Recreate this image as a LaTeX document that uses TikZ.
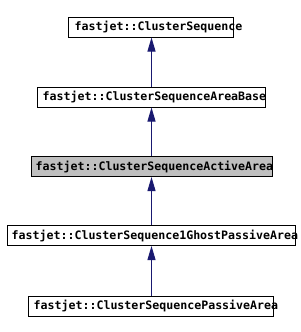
\documentclass[tikz,border=0pt]{standalone}
\usepackage{fontspec}
\setmonofont{DejaVu Sans Mono}
\usetikzlibrary{arrows.meta}
\definecolor{navy}{HTML}{191970}
\definecolor{graybox}{HTML}{BFBFBF}
\tikzset{
  clsbox/.style={draw=black, line width=1pt, rectangle, inner sep=0pt, minimum height=20pt},
  clstxt/.style={anchor=west, inner sep=0pt, font=\ttfamily\bfseries\fontsize{11.6pt}{13pt}\selectfont},
  inh/.style={draw=navy, line width=1pt, -{Triangle[length=14pt,width=8pt]}}
}
\begin{document}
\begin{tikzpicture}[x=1pt,y=-1pt]
\useasboundingbox (0,0) rectangle (300,332);
\coordinate (axis) at (151.5,0);
\node[clsbox, minimum width=165pt] (a) at (150.5,27) {};
\node[clstxt] (at) at ([xshift=7pt]a.west) {fastjet::ClusterSequence};
\node[clsbox, minimum width=228pt] (b) at (151,97) {};
\node[clstxt] (bt) at ([xshift=6pt]b.west) {fastjet::ClusterSequenceAreaBase};
\node[clsbox, minimum width=241pt, fill=graybox] (c) at (151.5,166.5) {};
\node[clstxt] (ct) at ([xshift=5pt]c.west) {fastjet::ClusterSequenceActiveArea};
\node[clsbox, minimum width=288pt] (d) at (151,235.5) {};
\node[clstxt] (dt) at ([xshift=5pt]d.west) {fastjet::ClusterSequence1GhostPassiveArea};
\node[clsbox, minimum width=245pt] (e) at (150.5,306) {};
\node[clstxt] (et) at ([xshift=6pt]e.west) {fastjet::ClusterSequencePassiveArea};
\draw[inh] (b.north -| axis) -- (a.south -| axis);
\draw[inh] (c.north -| axis) -- (b.south -| axis);
\draw[inh] (d.north -| axis) -- (c.south -| axis);
\draw[inh] (e.north -| axis) -- (d.south -| axis);
\end{tikzpicture}
\end{document}
